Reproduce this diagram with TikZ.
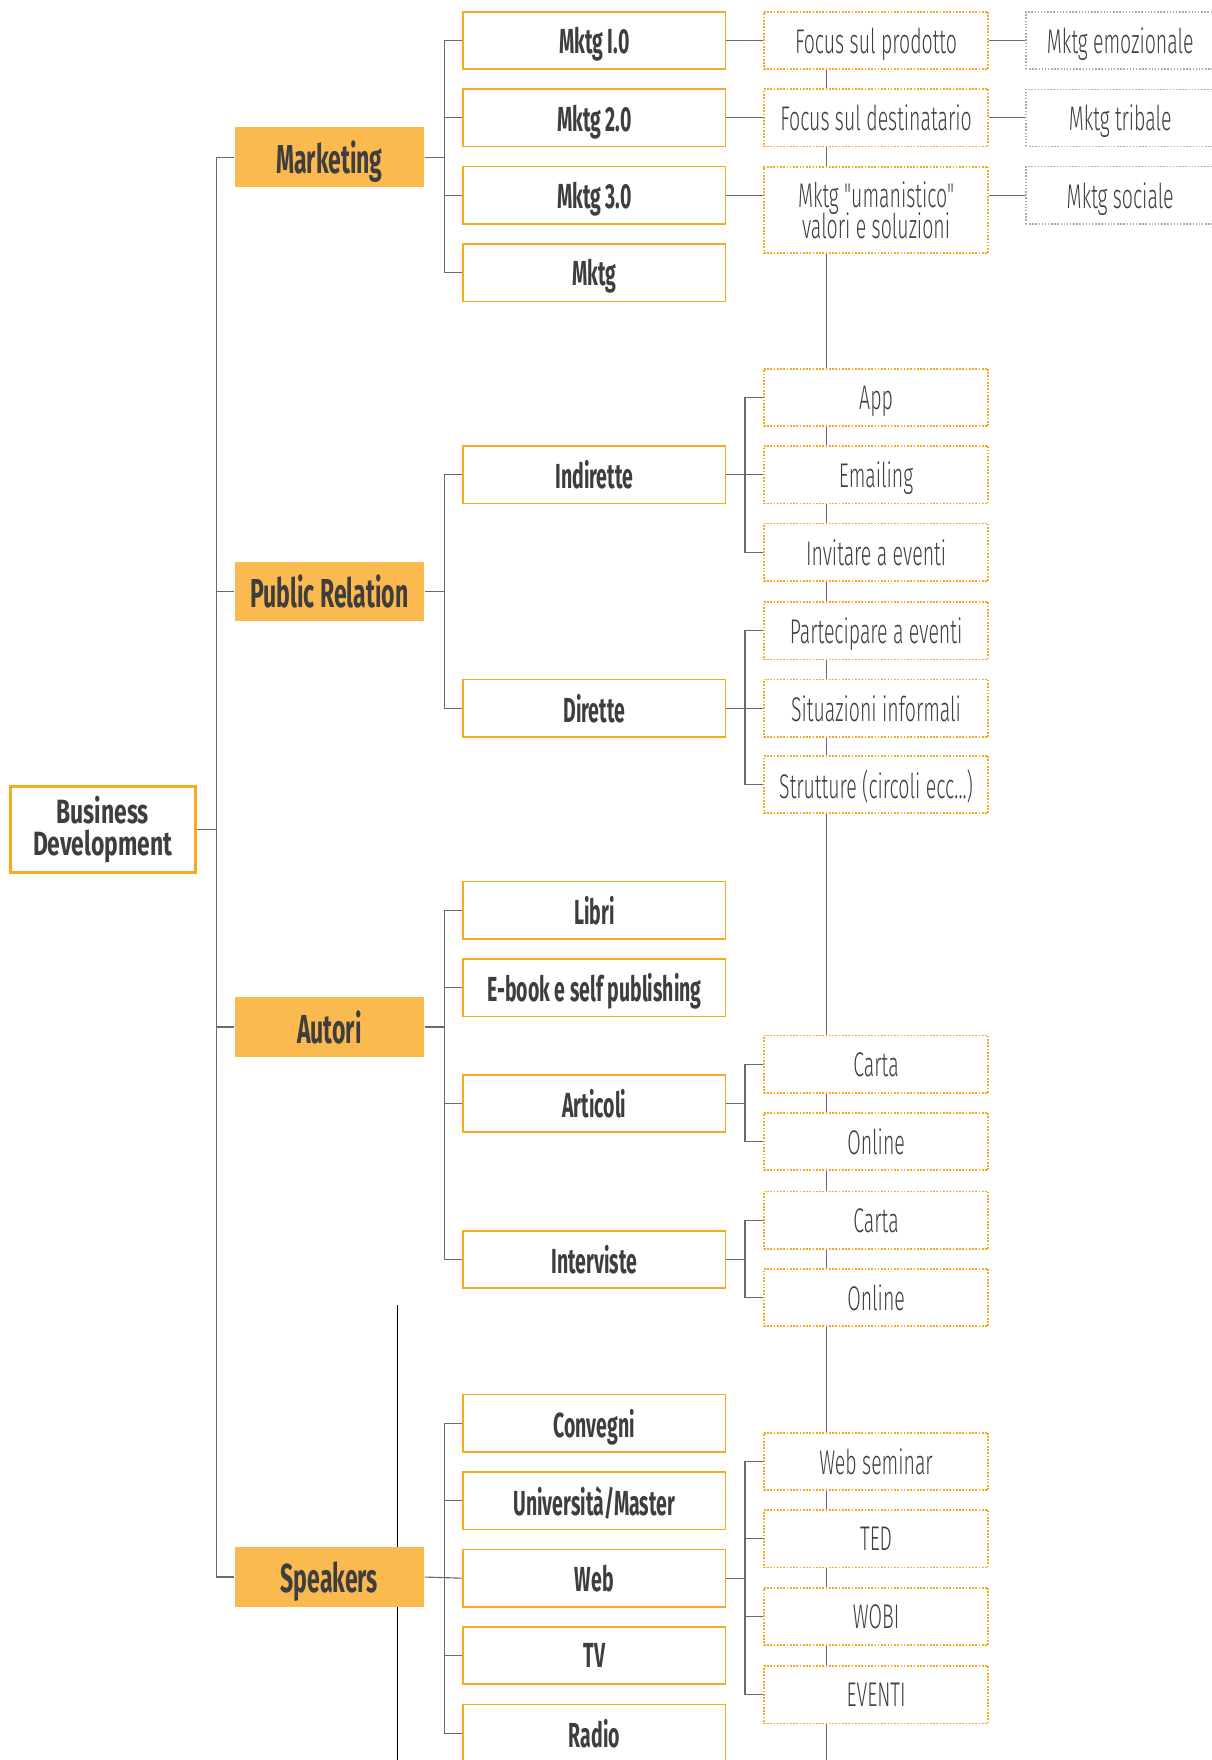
\documentclass[tikz,border=0pt]{standalone}
\usepackage{fontspec}
\setmainfont{Fira Sans}
\newfontfamily\heavyface[FakeStretch=0.56]{Fira Sans}
\newfontfamily\catface[FakeStretch=0.57]{Fira Sans}
\newfontfamily\lightface[FakeStretch=0.57]{Fira Sans Light}
\newfontfamily\rootface[FakeStretch=0.68]{Fira Sans}
\usetikzlibrary{backgrounds}

\definecolor{catorange}{HTML}{FBBA50}
\definecolor{boxorange}{HTML}{F8AA1C}
\definecolor{dotgray}{HTML}{ABABAB}
\definecolor{linegray}{HTML}{6A6A6A}
\definecolor{ink}{HTML}{3E3E3E}

\tikzset{
  link/.style={draw=linegray, line width=1pt},
  rootbox/.style={draw=boxorange, line width=2.5pt, fill=white, minimum width=165pt,
    minimum height=76pt, align=center, text=ink,
    font=\rootface\bfseries\fontsize{30}{29}\selectfont},
  catbox/.style={fill=catorange, minimum width=169pt, minimum height=53pt, text=ink,
    text depth=0pt, font=\catface\bfseries\fontsize{36}{36}\selectfont},
  subbox/.style={draw=boxorange, line width=1.4pt, fill=white, minimum width=234pt,
    minimum height=51pt, text=ink, text depth=0pt,
    font=\heavyface\bfseries\fontsize{31}{31}\selectfont},
  leafbox/.style={draw=boxorange, line width=1.5pt, dash pattern=on 1.5pt off 1.4pt,
    fill=white, minimum width=200pt, minimum height=51pt, align=center, text=ink,
    text depth=0pt, font=\lightface\fontsize{30.5}{30}\selectfont},
  farbox/.style={draw=dotgray, line width=1.3pt, dash pattern=on 1.3pt off 1.5pt,
    fill=white, minimum width=168pt, minimum height=51pt, text=ink, text depth=0pt,
    font=\lightface\fontsize{30.5}{30}\selectfont},
}

\begin{document}
\begin{tikzpicture}[x=1pt,y=-1pt]
\useasboundingbox (0,0) rectangle (1079,1568);

% root and categories
\node[rootbox] (bd) at (91.5,739) {Business\\Development};
\node[catbox] (mkt) at (293.5,140) {Marketing};
\node[catbox] (pr) at (293.5,527) {Public Relation};
\node[catbox] (aut) at (293.5,915) {Autori};
\node[catbox] (spk) at (293.5,1405) {Speakers};

% second level
\node[subbox] (m1) at (529.5,36) {Mktg I.0};
\node[subbox] (m2) at (529.5,105) {Mktg 2.0};
\node[subbox] (m3) at (529.5,174) {Mktg 3.0};
\node[subbox] (m4) at (529.5,243) {Mktg};
\node[subbox] (ind) at (529.5,423) {Indirette};
\node[subbox] (dir) at (529.5,631) {Dirette};
\node[subbox] (lib) at (529.5,811) {Libri};
\node[subbox] (ebk) at (529.5,880) {E-book e self publishing};
\node[subbox] (art) at (529.5,983) {Articoli};
\node[subbox] (int) at (529.5,1122) {Interviste};
\node[subbox] (cnv) at (529.5,1268) {Convegni};
\node[subbox] (uni) at (529.5,1337) {Università/Master};
\node[subbox] (web) at (529.5,1406) {Web};
\node[subbox] (tv) at (529.5,1475) {TV};
\node[subbox] (rad) at (529.5,1544) {Radio};

% third level
\node[leafbox] (f1) at (780.5,36) {Focus sul prodotto};
\node[leafbox] (f2) at (780.5,105) {Focus sul destinatario};
\node[leafbox, minimum height=77pt] (um) at (780.5,187) {Mktg "umanistico"\\[-2pt]valori e soluzioni};
\node[leafbox] (app) at (780.5,354) {App};
\node[leafbox] (eml) at (780.5,423) {Emailing};
\node[leafbox] (inv) at (780.5,492) {Invitare a eventi};
\node[leafbox] (par) at (780.5,562) {Partecipare a eventi};
\node[leafbox] (sit) at (780.5,631) {Situazioni informali};
\node[leafbox] (str) at (780.5,699) {Strutture (circoli ecc...)};
\node[leafbox] (ac) at (780.5,948) {Carta};
\node[leafbox] (ao) at (780.5,1017) {Online};
\node[leafbox] (ic) at (780.5,1087) {Carta};
\node[leafbox] (io) at (780.5,1156) {Online};
\node[leafbox] (wsm) at (780.5,1302) {Web seminar};
\node[leafbox] (ted) at (780.5,1371) {TED};
\node[leafbox] (wob) at (780.5,1440) {WOBI};
\node[leafbox] (evt) at (780.5,1510) {EVENTI};

% fourth level
\node[farbox] (s1) at (998,36) {Mktg emozionale};
\node[farbox] (s2) at (998,105) {Mktg tribale};
\node[farbox] (s3) at (998,174) {Mktg sociale};

\coordinate (chainx) at (736,0);
\coordinate (chainend) at (736,1585);
\coordinate (stemtop) at (354,1163);
\coordinate (stemend) at (354,1585);

\begin{scope}[on background layer]
\draw[link] (f1.south -| chainx) -- (chainend);
\draw[black, line width=0.8pt] (stemtop) -- (stemend);
\end{scope}

% root to categories
\draw[link] (bd.east) -- ++(18,0);
\draw[link] (mkt.west) -- ++(-16,0) |- (spk.west);
\foreach \n in {pr,aut} \draw[link] (\n.west) -- ++(-16,0);

% categories to second level
\draw[link] (mkt.east) -- ++(18,0);
\draw[link] (m1.west) -- ++(-16,0) |- (m4.west);
\foreach \n in {m2,m3} \draw[link] (\n.west) -- ++(-16,0);

\draw[link] (pr.east) -- ++(18,0);
\draw[link] (ind.west) -- ++(-16,0) |- (dir.west);

\draw[link] (aut.east) -- ++(18,0);
\draw[link] (lib.west) -- ++(-16,0) |- (int.west);
\foreach \n in {ebk,art} \draw[link] (\n.west) -- ++(-16,0);

\draw[link] (spk.east) -- (web.west);
\draw[link] (cnv.west) -- ++(-16,0) |- (rad.west);
\foreach \n in {uni,tv} \draw[link] (\n.west) -- ++(-16,0);

% second level to third level
\draw[link] (m1.east) -- (f1.west);
\draw[link] (m2.east) -- (f2.west);
\draw[link] (m3.east) -- (m3.east -| um.west);

\draw[link] (ind.east) -- (eml.west);
\draw[link] (app.west) -- ++(-16,0) |- (inv.west);
\draw[link] (dir.east) -- (sit.west);
\draw[link] (par.west) -- ++(-16,0) |- (str.west);

\draw[link] (art.east) -- ++(17,0);
\draw[link] (ac.west) -- ++(-16,0) |- (ao.west);
\draw[link] (int.east) -- ++(17,0);
\draw[link] (ic.west) -- ++(-16,0) |- (io.west);

\draw[link] (web.east) -- ++(17,0);
\draw[link] (wsm.west) -- ++(-16,0) |- (evt.west);
\foreach \n in {ted,wob} \draw[link] (\n.west) -- ++(-16,0);

% third level to fourth level
\draw[link] (f1.east) -- (s1.west);
\draw[link] (f2.east) -- (s2.west);
\draw[link] (s3.west -| um.east) -- (s3.west);

\end{tikzpicture}
\end{document}
